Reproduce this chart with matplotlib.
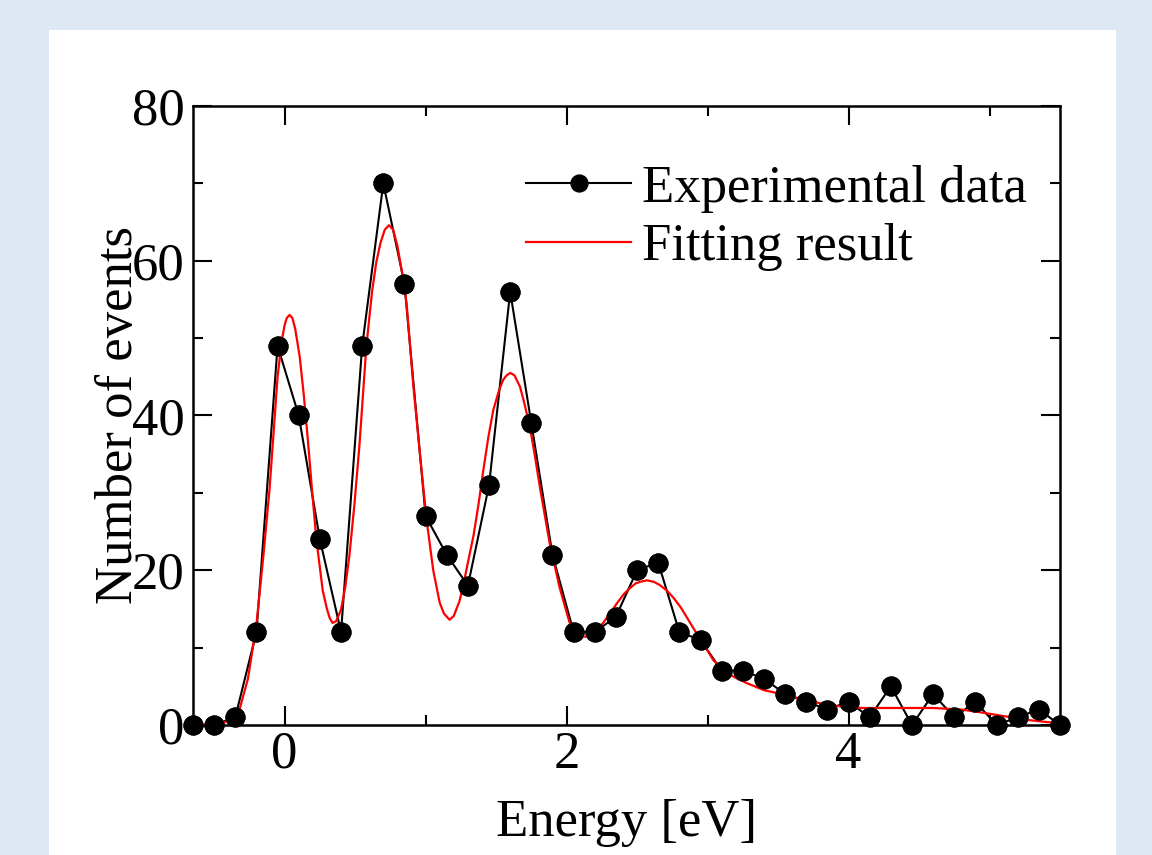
import matplotlib
matplotlib.use("Agg")
import matplotlib.pyplot as plt
from matplotlib.patches import Rectangle
from matplotlib.ticker import MultipleLocator

plt.rcParams['font.family'] = ['Liberation Serif', 'DejaVu Serif']

# experimental data (0.15 eV bins)
energy = [-0.65, -0.50, -0.35, -0.20, -0.05, 0.10, 0.25, 0.40, 0.55, 0.70,
          0.85, 1.00, 1.15, 1.30, 1.45, 1.60, 1.75, 1.90, 2.05, 2.20,
          2.35, 2.50, 2.65, 2.80, 2.95, 3.10, 3.25, 3.40, 3.55, 3.70,
          3.85, 4.00, 4.15, 4.30, 4.45, 4.60, 4.75, 4.90, 5.05, 5.20,
          5.35, 5.50]
counts = [0, 0, 1, 12, 49, 40, 24, 12, 49, 70,
          57, 27, 22, 18, 31, 56, 39, 22, 12, 12,
          14, 20, 21, 12, 11, 7, 7, 6, 4, 3,
          2, 3, 1, 5, 0, 4, 1, 3, 0, 1,
          2, 0]

# fitting result
fit_e = [-0.65, -0.50, -0.44, -0.38, -0.32, -0.26, -0.20, -0.15, -0.107, -0.05,
         -0.02, 0.00, 0.015, 0.035, 0.055, 0.075, 0.107, 0.135, 0.165, 0.195,
         0.225, 0.27, 0.30, 0.32, 0.34, 0.365, 0.40, 0.43, 0.46, 0.495,
         0.53, 0.58, 0.62, 0.65, 0.68, 0.71, 0.74, 0.77, 0.80, 0.835,
         0.865, 0.912, 0.96, 1.007, 1.054, 1.10, 1.13, 1.17, 1.20, 1.24,
         1.27, 1.30, 1.34, 1.375, 1.41, 1.445, 1.48, 1.52, 1.55, 1.575,
         1.60, 1.63, 1.67, 1.70, 1.74, 1.775, 1.81, 1.88, 1.95, 2.02,
         2.08, 2.15, 2.20, 2.26, 2.31, 2.36, 2.41, 2.45, 2.49, 2.52,
         2.57, 2.62, 2.66, 2.71, 2.76, 2.81, 2.85, 2.90, 2.95, 3.00,
         3.04, 3.09, 3.14, 3.21, 3.28, 3.40, 3.55, 3.70, 3.85, 4.00,
         4.10, 4.60, 4.80, 4.95, 5.05, 5.27, 5.50]
fit_n = [0.0, 0.0, 0.2, 0.8, 2.0, 6.0, 13.0, 22.0, 30.5, 45.0,
         49.7, 51.7, 52.6, 53.0, 52.6, 51.2, 47.6, 42.8, 36.8, 30.2,
         24.0, 17.4, 15.0, 13.8, 13.2, 13.4, 14.9, 17.8, 22.0, 28.5,
         36.0, 49.0, 56.0, 59.8, 62.3, 64.0, 64.6, 64.0, 61.9, 58.3,
         54.5, 44.0, 35.0, 26.5, 20.0, 15.8, 14.4, 13.6, 14.1, 16.0,
         18.3, 21.0, 24.5, 28.5, 33.0, 37.2, 40.7, 43.2, 44.6, 45.2,
         45.5, 45.2, 43.7, 41.6, 38.5, 34.8, 30.8, 23.5, 17.8, 13.3,
         11.5, 11.4, 12.0, 13.2, 14.5, 15.8, 17.0, 17.7, 18.3, 18.5,
         18.7, 18.5, 18.1, 17.4, 16.4, 15.2, 14.0, 12.5, 11.0, 9.6,
         8.4, 7.5, 6.7, 6.0, 5.4, 4.5, 3.9, 3.2, 2.6, 2.3,
         2.2, 2.2, 2.0, 1.6, 1.3, 0.65, 0.2]

fig = plt.figure(figsize=(11.52, 8.55), dpi=100)
fig.patch.set_facecolor('#dde8f4')
fig.patches.append(Rectangle((49 / 1152, 0), (1116 - 49) / 1152, 1 - 30 / 855,
                             transform=fig.transFigure, facecolor='white',
                             edgecolor='none', zorder=-10))

ax = fig.add_axes([193 / 1152, 1 - 725 / 855, 867 / 1152, 619 / 855])
ax.set_facecolor('none')

ax.plot(energy, counts, '-o', color='black', lw=1.5, ms=13.5,
        label='Experimental data', zorder=2, clip_on=False)
ax.plot(fit_e, fit_n, '-', color='red', lw=1.6, label='Fitting result', zorder=3)
ax.plot(energy, counts, 'o', color='black', ms=13.5, zorder=4, clip_on=False)

ax.set_xlim(-0.65, 5.5)
ax.set_ylim(0, 80)
ax.xaxis.set_major_locator(MultipleLocator(2))
ax.xaxis.set_minor_locator(MultipleLocator(1))
ax.yaxis.set_major_locator(MultipleLocator(20))
ax.yaxis.set_minor_locator(MultipleLocator(10))
ax.tick_params(which='both', direction='in', top=True, right=True, width=1.5,
               labelsize=38)
ax.tick_params(which='major', length=13.5)
ax.tick_params(which='minor', length=7)
ax.tick_params(axis='y', pad=6)
ax.tick_params(axis='x', pad=4)
for s in ax.spines.values():
    s.set_linewidth(1.8)

ax.set_xlabel('Energy [eV]', fontsize=38, labelpad=15)
ax.set_ylabel('Number of events', fontsize=38)
ax.yaxis.set_label_coords(-0.058, 0.5)

ax.legend(loc='upper left', bbox_to_anchor=(0.384, 0.905), frameon=False,
          fontsize=38, handlelength=2.0, handletextpad=0.2, labelspacing=0.2,
          borderpad=0, borderaxespad=0, markerscale=0.9)

fig.savefig('out.png', dpi=100, facecolor=fig.get_facecolor())
